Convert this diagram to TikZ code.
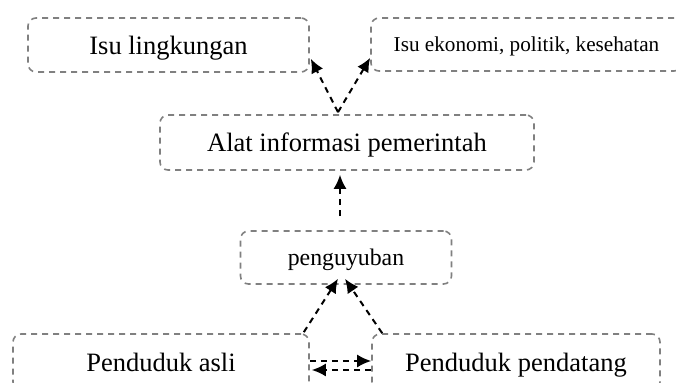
\documentclass[tikz,border=0pt]{standalone}
\usepackage{fontspec}
\setmainfont{Liberation Serif}
\usetikzlibrary{arrows.meta,calc}
\definecolor{boxgray}{RGB}{128,128,128}

\begin{document}
\begin{tikzpicture}[x=0.5pt,y=-0.5pt,
  issue/.style={draw=boxgray,line width=0.8pt,dash pattern=on 3pt off 2.5pt,
               rounded corners=4pt,inner sep=0pt,text depth=0pt,
               font=\fontsize{13.25}{15}\selectfont},
  flow/.style={-{Latex[length=7pt,width=6.5pt]},line width=1pt,
               dash pattern=on 3pt off 2.5pt,color=black}
]
\useasboundingbox (0,0) rectangle (676,383);
\clip (0,0) rectangle (676,383);

\node[issue,minimum width=140.5pt,minimum height=27pt] (isuling) at (168.5,45) {Isu lingkungan};
\node[issue,minimum width=155.5pt,minimum height=26.5pt,font=\fontsize{10.6}{12}\selectfont] (isueko) at (526.5,44.5) {Isu ekonomi, politik, kesehatan};
\node[issue,minimum width=187pt,minimum height=27.5pt] (alat) at (347,142.5) {Alat informasi pemerintah};
\node[issue,minimum width=105.5pt,minimum height=26.5pt,font=\fontsize{11.9}{14}\selectfont] (paguyuban) at (346,257.5) {penguyuban};
\node[issue,minimum width=148pt,minimum height=28pt] (asli) at (161,362) {Penduduk asli};
\node[issue,minimum width=144pt,minimum height=28pt] (pendatang) at (516,362) {Penduduk pendatang};

\draw[flow] ($(alat.north)+(-9,-2)$) -- ($(isuling.south east)+(1,-14)$);
\draw[flow] ($(alat.north)+(-9,-2)$) -- ($(isueko.south west)+(0,-14)$);
\draw[flow] ($(paguyuban.north)+(-6,-14)$) -- ($(alat.south)+(-7,4)$);
\draw[flow] ($(asli.north east)+(-6,-1)$) -- ($(paguyuban.south)+(-8,-6)$);
\draw[flow] ($(pendatang.north west)+(11,0)$) -- ($(paguyuban.south)+(-1,-6)$);
\draw[flow] ($(asli.east)+(0,-1)$) -- ($(pendatang.west)+(0,-1)$);
\draw[flow] ($(pendatang.west)+(0,8)$) -- ($(asli.east)+(2,8)$);
\end{tikzpicture}
\end{document}
